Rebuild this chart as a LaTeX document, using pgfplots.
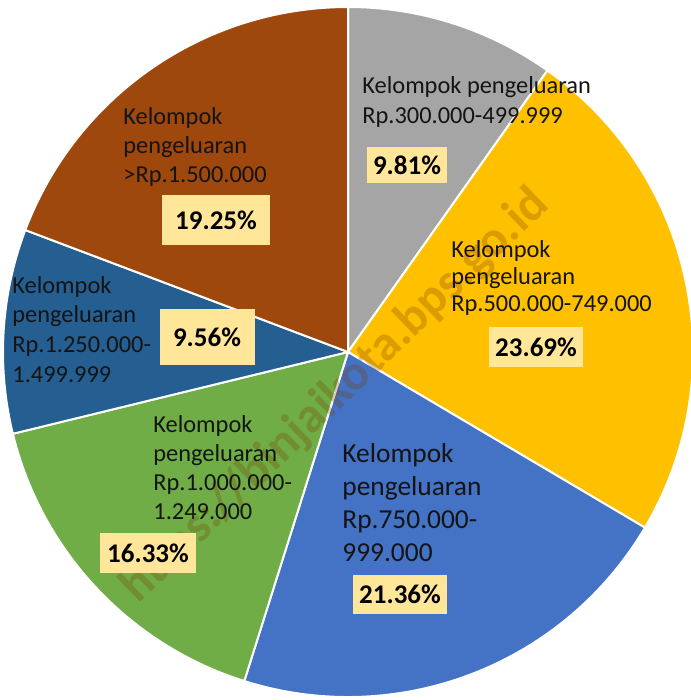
\documentclass[border=0pt]{standalone}
\usepackage{fontspec}
\setmainfont{Carlito}
\usepackage{pgfplots}
\usepackage{pgfplotstable}
\pgfplotsset{compat=1.18}

\definecolor{cGray}{HTML}{A5A5A5}
\definecolor{cGold}{HTML}{FFC000}
\definecolor{cBlue}{HTML}{4472C4}
\definecolor{cGreen}{HTML}{70AD47}
\definecolor{cNavy}{HTML}{255E91}
\definecolor{cBrown}{HTML}{9E480E}
\definecolor{boxfill}{HTML}{FFE699}
\definecolor{txt}{HTML}{141414}
\definecolor{wmark}{HTML}{7A3E00}

% share of each group, clockwise from 12 o'clock
\pgfplotstableread{
pct   col
9.81  cGray
23.69 cGold
21.36 cBlue
16.33 cGreen
9.56  cNavy
19.25 cBrown
}\piedata

% one line of a label: x, baseline y (pixels from top), size, text
\newcommand{\lline}[4]{\node[anchor=base west, inner sep=0pt, text=txt,
  font=\fontsize{#3}{#3}\selectfont] at (axis cs:#1,#2) {#4};}
% percentage box: centre x, centre y, width, height, text
\newcommand{\pct}[5]{\node[fill=boxfill, inner sep=0pt, minimum width=#3*0.5pt,
  minimum height=#4*0.5pt, text=black, font=\fontsize{13.5}{13.5}\selectfont\bfseries]
  at (axis cs:#1,#2) {#5};}

\begin{document}
\begin{tikzpicture}
\begin{axis}[
  x=0.5pt, y=0.5pt,
  xmin=0, xmax=690, ymin=0, ymax=700,
  y dir=reverse,
  hide axis, clip=false,
  ]
  \coordinate (bl) at (axis cs:0,700);
  \coordinate (tr) at (axis cs:690,0);
  \def\cum{0}
  \pgfplotsinvokeforeach{0,...,5}{
    \pgfplotstablegetelem{#1}{pct}\of\piedata
    \let\sval\pgfplotsretval
    \pgfmathsetmacro\sa{90-3.6*\cum}
    \pgfmathsetmacro\sb{90-3.6*(\cum+\sval)}
    \pgfmathsetmacro\newcum{\cum+\sval}
    \global\let\cum\newcum
    \pgfplotstablegetelem{#1}{col}\of\piedata
    \edef\temp{\noexpand\fill[fill=\pgfplotsretval, draw=white, line width=1pt, line join=round]
      (axis cs:348,352) -- ++(\sa:172.5pt) arc[start angle=\sa, end angle=\sb, radius=172.5pt] -- cycle;}
    \temp
  }

  % watermark
  \node[rotate=44, text=wmark, opacity=0.27, font=\fontsize{25}{25}\selectfont\bfseries]
    at (axis cs:335,396) {https://binjaikota.bps.go.id};

  % 300.000-499.999
  \lline{362}{93}{12.2}{Kelompok pengeluaran}
  \lline{362}{123}{12.2}{Rp.300.000-499.999}
  \pct{407}{165}{80}{36}{9.81\%}
  % 500.000-749.000
  \lline{451}{257}{12.2}{Kelompok}
  \lline{451}{284}{12.2}{pengeluaran}
  \lline{451}{311}{12.2}{Rp.500.000-749.000}
  \pct{536}{347}{94}{40}{23.69\%}
  % 750.000-999.000
  \lline{342}{462}{13.7}{Kelompok}
  \lline{342}{495}{13.7}{pengeluaran}
  \lline{342}{528}{13.7}{Rp.750.000-}
  \lline{342}{561}{13.7}{999.000}
  \pct{400}{594}{94}{39}{21.36\%}
  % 1.000.000-1.249.000
  \lline{153}{432}{12.2}{Kelompok}
  \lline{153}{461}{12.2}{pengeluaran}
  \lline{153}{490}{12.2}{Rp.1.000.000-}
  \lline{153}{519}{12.2}{1.249.000}
  \pct{148}{553}{96}{40}{16.33\%}
  % 1.250.000-1.499.999
  \lline{12}{293}{12.2}{Kelompok}
  \lline{12}{322}{12.2}{pengeluaran}
  \lline{12}{352}{12.2}{Rp.1.250.000-}
  \lline{12}{382}{12.2}{1.499.999}
  \pct{207}{337}{95}{56}{9.56\%}
  % > 1.500.000
  \lline{123}{125}{12.2}{Kelompok}
  \lline{123}{153.5}{12.2}{pengeluaran}
  \lline{123}{182}{12.2}{>Rp.1.500.000}
  \pct{216}{220}{108}{50}{19.25\%}
\end{axis}
\pgfresetboundingbox
\path[use as bounding box] (bl) rectangle (tr);
\end{tikzpicture}
\end{document}
